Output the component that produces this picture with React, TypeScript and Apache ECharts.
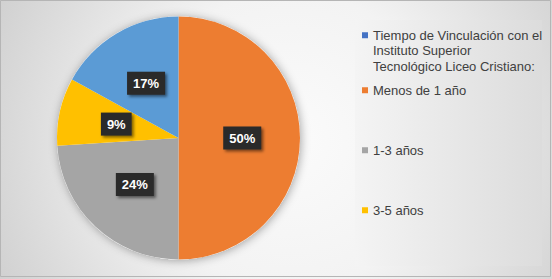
import React, { useEffect, useRef } from 'react';
import * as echarts from 'echarts';

// ---- data ----
const categories = [
  'Menos de 1 año',
  '1-3 años',
  '3-5 años',
  'Tiempo de Vinculación con el Instituto Superior Tecnológico Liceo Cristiano:',
];
const values = [50, 24, 9, 17];
const sliceColors = ['#ED7D31', '#A5A5A5', '#FFC000', '#5B9BD5'];
const legendOrder = [3, 0, 1, 2];
const legendMarkerColors = ['#4472C4', '#ED7D31', '#A5A5A5', '#FFC000'];
const longNameLines = ['Tiempo de Vinculación con el', 'Instituto Superior', 'Tecnológico Liceo Cristiano:'];

// ---- layout ----
const W = 552;
const H = 279;
const PIE_CENTER: [number, number] = [178.5, 138];
const PIE_RADIUS = 121.5;
const LEGEND_LEFT = 362;
const LEGEND_TEXT_X = 373;
const LEGEND_TOPS = [27, 82, 142, 202];
const CONT_TOP = 42;
const FONT = "'Liberation Sans', Arial, sans-serif";
const LINE_H = 16.5;
const TEXT_COLOR = '#404040';

const firstLine = (n: string) => (n.startsWith('Tiempo') ? longNameLines[0] : n);

export default function App() {
  const ref = useRef<HTMLDivElement>(null);
  useEffect(() => {
    document.body.style.margin = '0';
    if (!ref.current) return;
    const chart = echarts.init(ref.current, undefined, { renderer: 'svg' });

    const legends = legendOrder.map((idx, i) => ({
      orient: 'vertical',
      left: LEGEND_LEFT,
      top: LEGEND_TOPS[i],
      padding: 0,
      icon: 'rect',
      itemWidth: 6,
      itemHeight: 6,
      selectedMode: false,
      data: [{ name: categories[idx], itemStyle: { color: legendMarkerColors[i] } }],
      formatter: firstLine,
      textStyle: {
        fontFamily: FONT,
        fontSize: 13,
        color: TEXT_COLOR,
        lineHeight: LINE_H,
      },
    }));

    chart.setOption({
      animation: false,
      graphic: [
        {
          type: 'rect',
          z: 0,
          silent: true,
          shape: { x: 0, y: 0, width: W, height: H },
          style: {
            fill: new echarts.graphic.RadialGradient(290, 140, 330, [
              { offset: 0, color: '#fbfbfb' },
              { offset: 0.45, color: '#f3f3f3' },
              { offset: 1, color: '#cfcfcf' },
            ], true),
          },
        },
        {
          type: 'rect',
          z: 0,
          silent: true,
          shape: { x: 0.5, y: 0.5, width: 550, height: 276 },
          style: { fill: 'none', stroke: '#b5b5b5', lineWidth: 1 },
        },
        {
          type: 'rect',
          z: 0,
          silent: true,
          shape: { x: 355, y: 20, width: 187, height: 246 },
          style: {
            fill: new echarts.graphic.LinearGradient(0, 0, 1, 0, [
              { offset: 0, color: '#f4f4f4' },
              { offset: 1, color: '#dcdcdc' },
            ]),
          },
        },
        {
          type: 'circle',
          z: 1,
          silent: true,
          shape: { cx: PIE_CENTER[0], cy: PIE_CENTER[1], r: PIE_RADIUS },
          style: {
            fill: '#ffffff',
            shadowBlur: 10,
            shadowColor: 'rgba(0,0,0,0.35)',
            shadowOffsetX: 1,
            shadowOffsetY: 1,
          },
        },
        {
          type: 'text',
          z: 5,
          silent: true,
          x: LEGEND_TEXT_X,
          y: CONT_TOP,
          style: {
            text: longNameLines.slice(1).join('\n'),
            font: `13px ${FONT}`,
            fontFamily: FONT,
            fontSize: 13,
            lineHeight: LINE_H,
            fill: TEXT_COLOR,
            verticalAlign: 'top',
            align: 'left',
          },
        },
      ],
      legend: legends,
      series: [
        {
          type: 'pie',
          center: PIE_CENTER,
          radius: PIE_RADIUS,
          startAngle: 90,
          clockwise: true,
          avoidLabelOverlap: false,
          data: categories.map((name, i) => ({
            name,
            value: values[i],
            itemStyle: { color: sliceColors[i] },
          })),
          itemStyle: { borderWidth: 0 },
          label: {
            show: true,
            position: 'inside',
            formatter: '{d}%',
            fontFamily: FONT,
            fontSize: 13,
            fontWeight: 'bold',
            color: '#ffffff',
            backgroundColor: '#2a2a2a',
            padding: [4, 6, 4, 6],
            lineHeight: 15,
            shadowColor: 'rgba(0,0,0,0.5)',
            shadowBlur: 3,
            shadowOffsetX: 2,
            shadowOffsetY: 2,
          },
          labelLine: { show: false },
          emphasis: { disabled: true },
        },
      ],
    });
    return () => chart.dispose();
  }, []);
  return <div ref={ref} style={{ width: W, height: H }} />;
}
